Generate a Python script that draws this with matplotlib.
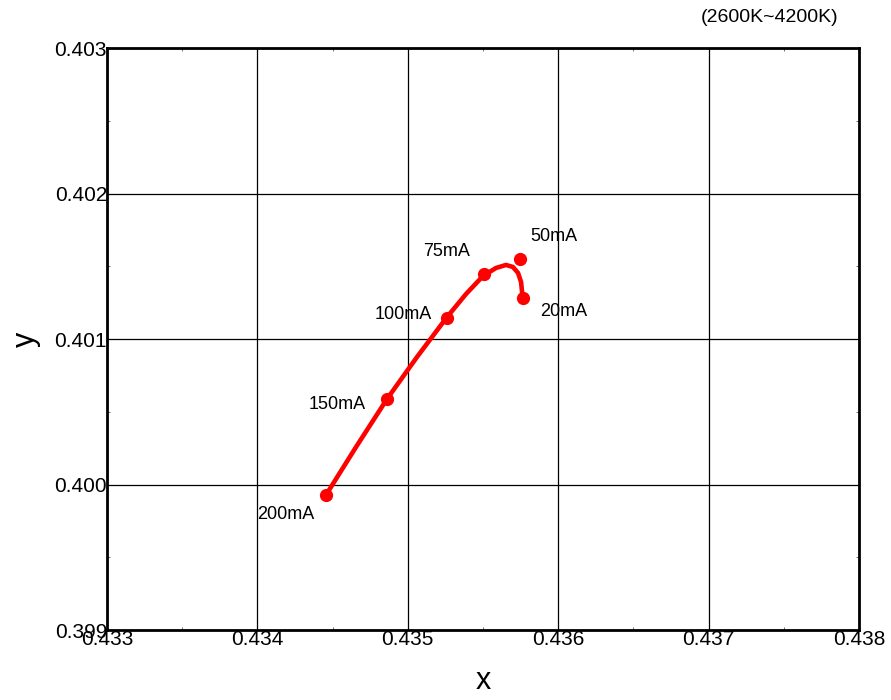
import matplotlib
matplotlib.use("Agg")
import matplotlib.pyplot as plt
from matplotlib.ticker import MultipleLocator

plt.rcParams['font.family'] = ['Liberation Sans', 'DejaVu Sans']

# Measured points (CIE x, y) per drive current
labels = ["200mA", "150mA", "100mA", "75mA", "50mA", "20mA"]
pts_x = [0.434456, 0.434862, 0.435261, 0.435507, 0.435746, 0.435766]
pts_y = [0.399928, 0.400588, 0.401144, 0.401447, 0.401550, 0.401282]

# Fitted trend curve
curve_x = [0.434456, 0.434656, 0.434862, 0.435061, 0.435261, 0.435387, 0.435500,
           0.435586, 0.435653, 0.435699, 0.435733, 0.435753, 0.435759, 0.435766]
curve_y = [0.399928, 0.400258, 0.400588, 0.400876, 0.401151, 0.401309, 0.401433,
           0.401488, 0.401509, 0.401495, 0.401454, 0.401392, 0.401330, 0.401275]

x_ticks = [0.433, 0.434, 0.435, 0.436, 0.437, 0.438]
y_ticks = [0.399, 0.400, 0.401, 0.402, 0.403]
title = "(2600K~4200K)"

# label offsets in pixels (dx, dy)
label_offsets = [(-40, -20), (-50, -6), (-44, 4), (-37, 22), (34, 22), (41, -14)]

fig = plt.figure(figsize=(8.91, 7.0), dpi=100)
ax = fig.add_axes([107/891, 1-630/700, (859-107)/891, (630-48)/700])

ax.plot(curve_x, curve_y, color="#ff0000", lw=3.3, solid_capstyle="round",
        solid_joinstyle="round", zorder=3)
ax.plot(pts_x, pts_y, 'o', color="#ff0000", ms=8.5, zorder=4)

for lab, px, py, (dx, dy) in zip(labels, pts_x, pts_y, label_offsets):
    ax.annotate(lab, (px, py), xytext=(dx * 0.72, dy * 0.72), textcoords="offset points",
                ha="center", va="center", fontsize=13, color="black")

ax.set_xlim(x_ticks[0], x_ticks[-1])
ax.set_ylim(y_ticks[0], y_ticks[-1])
ax.set_xticks(x_ticks)
ax.set_yticks(y_ticks)
ax.set_xticklabels([f"{v:.3f}" for v in x_ticks])
ax.set_yticklabels([f"{v:.3f}" for v in y_ticks])
ax.xaxis.set_minor_locator(MultipleLocator(0.0005))
ax.yaxis.set_minor_locator(MultipleLocator(0.0005))
ax.tick_params(which="major", length=0, pad=0, labelsize=15)
ax.tick_params(which="minor", length=2, width=0.6, direction="in", top=True, right=True,
               color="#555555")
ax.grid(True, which="major", color="black", lw=0.9)
for s in ax.spines.values():
    s.set_linewidth(2)
    s.set_color("black")

ax.set_xlabel("x", fontsize=22, labelpad=12)
ax.set_ylabel("y", fontsize=22, labelpad=10)
fig.text(770/891, 1-17/700, title, ha="center", va="center", fontsize=14)

fig.savefig("out.png", dpi=100)
